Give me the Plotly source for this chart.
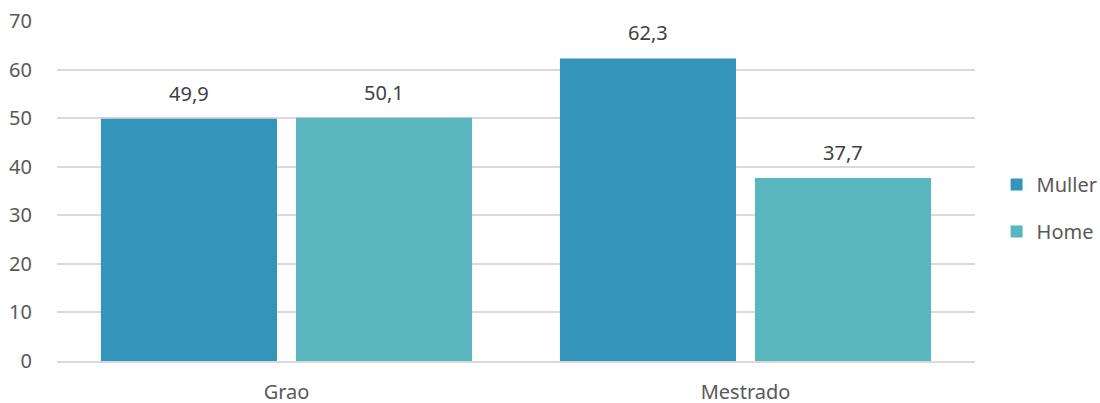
import plotly.graph_objects as go

categories = ["Grao", "Mestrado"]
muller = [49.9, 62.3]
home = [50.1, 37.7]
series_names = ["Muller", "Home"]
colors = ["#3594BA", "#59B6BF"]

FONT = "Noto Sans, sans-serif"
fig = go.Figure()
offsets = [-97.5, 97.5]
for name, vals, col, off in zip(series_names, [muller, home], colors, offsets):
    fig.add_trace(go.Bar(
        x=categories, y=vals, name=name, marker=dict(color=col, line=dict(width=0)),
        legendgroup=name,
    ))
    for c, v in zip(categories, vals):
        fig.add_annotation(x=c, y=v, xref="x", yref="y", text=f"{v:.1f}".replace(".", ","),
                           showarrow=False, xshift=off, yshift=10, yanchor="bottom",
                           font=dict(family=FONT, size=20, color="#404040"))

fig.update_layout(
    width=1100, height=403,
    margin=dict(l=57, r=125, t=21, b=42),
    plot_bgcolor="white", paper_bgcolor="white",
    font=dict(family=FONT, size=20, color="#595959"),
    barmode="group", bargap=0.15, bargroupgap=0.0974,
    showlegend=True,
    legend=dict(xref="container", yref="container", x=0.906, y=0.484,
                xanchor="left", yanchor="middle",
                font=dict(family=FONT, size=20, color="#595959"),
                traceorder="grouped", tracegroupgap=18, itemwidth=30),
    xaxis=dict(showline=True, linecolor="#d9d9d9", linewidth=1.5, ticks="",
               tickfont=dict(family=FONT, size=20, color="#595959"),
               ticklabelstandoff=12, automargin=False),
    yaxis=dict(range=[0, 70], dtick=10, showgrid=True, gridcolor="#d9d9d9", gridwidth=1.5,
               zeroline=False, showline=False,
               tickfont=dict(family=FONT, size=20, color="#595959"),
               ticklabelstandoff=24, automargin=False),
)
fig.write_html("out.html", config={"displayModeBar": False},
               post_script="document.body.style.margin='0';")
